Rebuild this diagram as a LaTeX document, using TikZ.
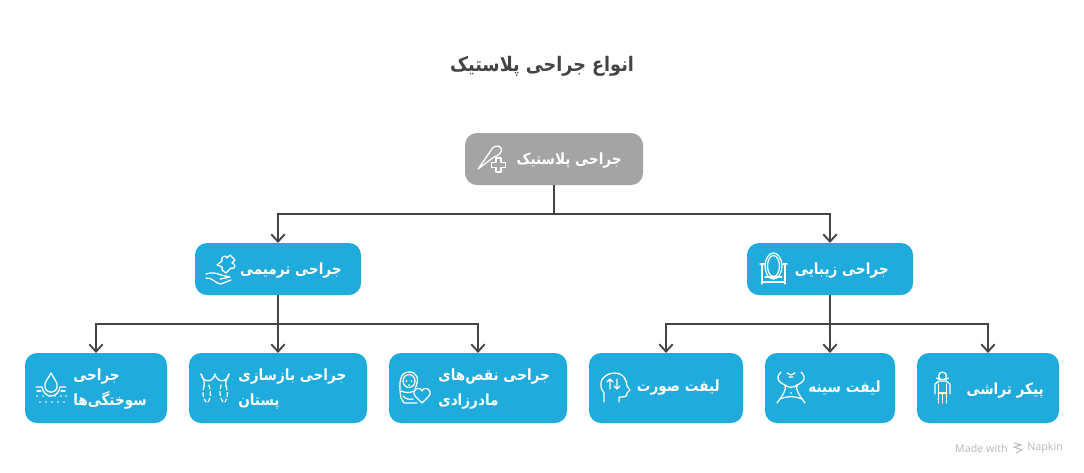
\documentclass[tikz,border=0pt]{standalone}
\usepackage{fontspec}
\TeXXeTstate=1
\newfontfamily\arabicfont[Script=Arabic,FakeStretch=0.88]{DejaVu Sans}
\setsansfont{Noto Sans}
\usetikzlibrary{arrows.meta}
\definecolor{boxblue}{HTML}{1FABDB}
\definecolor{boxgray}{HTML}{A4A4A4}
\definecolor{linegray}{HTML}{444444}
\definecolor{titlegray}{HTML}{444444}
\definecolor{markgray}{HTML}{BDBDBD}
\tikzset{
 x=0.75pt,y=-0.75pt,
 card/.style={rounded corners=9pt,anchor=north west,inner sep=0pt,outer sep=0pt},
 bluecard/.style={card,fill=boxblue},
 graycard/.style={card,fill=boxgray},
 lbl/.style={text=white,font=\arabicfont\bfseries\fontsize{11.6}{18.75}\selectfont,align=left,inner sep=0pt},
 link/.style={draw=linegray,line width=1.4pt,-{Straight Barb[length=5.5pt,width=10pt,line width=1.4pt]}},
 ico/.style={draw=white,line width=0.95pt,line cap=round,line join=round},
}
\newcommand{\rl}[1]{\beginR #1\endR}
\begin{document}
\begin{tikzpicture}
\useasboundingbox (0,0) rectangle (1084,472);
\fill[white] (0,0) rectangle (1084,472);
\node[text=titlegray,font=\arabicfont\bfseries\fontsize{15}{17}\selectfont,inner sep=0pt] (title) at (542,66) {\rl{انواع جراحی پلاستیک}};
\node[graycard,minimum width=133.5pt,minimum height=39pt] (root) at (465,133) {};
\node[bluecard,minimum width=124.5pt,minimum height=39pt] (recon) at (195,243) {};
\node[bluecard,minimum width=124.5pt,minimum height=39pt] (beauty) at (747,243) {};
\node[bluecard,minimum width=106.5pt,minimum height=52.5pt] (burn) at (25,353) {};
\node[bluecard,minimum width=133.5pt,minimum height=52.5pt] (breast) at (189,353) {};
\node[bluecard,minimum width=133.5pt,minimum height=52.5pt] (cong) at (389,353) {};
\node[bluecard,minimum width=115.5pt,minimum height=52.5pt] (face) at (589,353) {};
\node[bluecard,minimum width=97.5pt,minimum height=52.5pt] (chest) at (765,353) {};
\node[bluecard,minimum width=106.5pt,minimum height=52.5pt] (body) at (917,353) {};
\node[lbl,anchor=east] (t0) at (622,161) {\rl{جراحی پلاستیک}};
\node[lbl,anchor=east] (t1) at (342,271) {\rl{جراحی ترمیمی}};
\node[lbl,anchor=east] (t2) at (889,271) {\rl{جراحی زیبایی}};
\node[lbl,anchor=west] (t3) at (73,389) {\rl{جراحی}\\\rl{سوختگی‌ها}};
\node[lbl,anchor=west] (t4) at (238,389) {\rl{جراحی بازسازی}\\\rl{پستان}};
\node[lbl,anchor=west] (t5) at (438,389) {\rl{جراحی نقص‌های}\\\rl{مادرزادی}};
\node[lbl,anchor=east] (t6) at (720,388) {\rl{لیفت صورت}};
\node[lbl,anchor=east] (t7) at (881,388) {\rl{لیفت سینه}};
\node[lbl,anchor=east] (t8) at (1044,391) {\rl{پیکر تراشی}};
\draw[link] (root.south) -- ++(0,29) -| (recon.north);
\draw[link] (root.south) -- ++(0,29) -| (beauty.north);
\foreach \t in {burn,breast,cong} \draw[link] (recon.south) -- ++(0,29) -| (\t.north);
\foreach \t in {face,chest,body} \draw[link] (beauty.south) -- ++(0,29) -| (\t.north);
% root icon
\draw[ico] (478,169) -- (490,152) .. controls (492,146) and (499,144) .. (501,148) .. controls (503,152) and (498,156) .. (494,157) -- cycle;
\draw[ico,fill=boxgray] (491.5,162.5) -- (496,162.5) -- (496,158) -- (501,158) -- (501,162.5) -- (505.5,162.5) -- (505.5,167.5) -- (501,167.5) -- (501,172) -- (496,172) -- (496,167.5) -- (491.5,167.5) -- cycle;
% recon icon
\draw[ico] (217,265) -- (222,261) .. controls (220,257) and (226,254) .. (227,258) -- (230,255) -- (235,260) -- (232,263) .. controls (237,264) and (235,270) .. (231,268) -- (226,273) -- (222,270) .. controls (224,266) and (219,266) .. (217,265) -- cycle;
\draw[ico] (206,274) .. controls (212,272) and (216,273) .. (221,275) -- (230,277) -- (220,279) (206,278) .. controls (212,277) and (216,284) .. (221,284) -- (231,280);
% mirror icon
\draw[ico] (773.5,266) ellipse (8.5 and 13);
\draw[ico] (773.5,266) ellipse (6 and 10.5);
\draw[ico] (762,265) -- (762,284) (785,265) -- (785,284) (762,282) -- (785,282) (765,277) -- (782,277) (760,264) -- (764,264) (783,264) -- (787,264);
% burn icon
\draw[ico] (51,373) .. controls (48,379) and (44,382) .. (45,387) .. controls (46,394) and (56,394) .. (57,387) .. controls (58,382) and (54,379) .. (51,373);
\draw[ico] (36,387) -- (42,387) .. controls (44,399) and (58,399) .. (60,387) -- (66,387);
\draw[ico] (37,391) -- (41,391) (61,391) -- (65,391);
\foreach \p in {37,43,49,55,61,66} \fill[white] (\p,396) circle (0.9);
\foreach \p in {40,46,52,58,64} \fill[white] (\p,402) circle (0.9);
% breast icon
\draw[ico] (201,374) .. controls (203,383) and (213,383) .. (215,374) .. controls (217,383) and (227,383) .. (229,374);
\draw[ico] (201,374) .. controls (204,380) and (205,383) .. (204,386);
\draw[ico] (229,374) .. controls (226,380) and (225,383) .. (226,386);
\draw[ico,densely dashed] (204,386) .. controls (202,392) and (203,398) .. (206,402) (209,385) .. controls (211,392) and (211,398) .. (208,402);
\draw[ico,densely dashed] (226,386) .. controls (228,392) and (228,398) .. (225,402) (221,385) .. controls (219,392) and (220,398) .. (223,402);
% newborn icon
\draw[ico] (409,381) ellipse (6 and 6.5);
\draw[ico] (415,389) .. controls (420,378) and (417,372) .. (409,372) .. controls (401,372) and (398,380) .. (401,398) -- (404,403) -- (417,403);
\draw[ico] (401,391) .. controls (406,393) and (410,393) .. (414,391) (403,396) .. controls (406,399) and (409,400) .. (413,399);
\fill[white] (406.5,381) circle (1) (411.5,381) circle (1) (409,385) circle (1);
\draw[ico,fill=boxblue] (422,403) -- (415,396) .. controls (411,390) and (419,385) .. (422,391) .. controls (425,385) and (433,390) .. (429,396) -- cycle;
% face icon
\draw[ico] (604,402) -- (604,393) .. controls (597,384) and (602,374) .. (614,373) .. controls (624,373) and (627,381) .. (627,386) -- (630,390) -- (627,393) .. controls (627,397) and (625,397) .. (619,397) -- (619,402);
\draw[ico] (610,389) -- (610,379) (607,382) -- (610,379) -- (613,382) (617,379) -- (617,389) (614,386) -- (617,389) -- (620,386);
% chest icon
\draw[ico] (781,372) .. controls (775,378) and (778,382) .. (785,385) .. controls (787,390) and (782,396) .. (777,403);
\draw[ico] (801,372) .. controls (807,378) and (804,382) .. (797,385) .. controls (795,390) and (800,396) .. (805,403);
\draw[ico] (785,385) .. controls (788,388) and (794,388) .. (797,385);
\draw[ico] (780,399) .. controls (786,396) and (796,396) .. (802,399);
\draw[ico] (787,373) -- (791,375) -- (795,373) (789,377) -- (793,377);
\fill[white] (791,393) circle (1);
% body icon
\draw[ico] (942.5,376) circle (4);
\draw[ico] (936.5,378) .. controls (938,380) and (947,380) .. (948.5,378);
\draw[ico] (939,381) -- (946,381) -- (950,384) -- (950,394) (939,381) -- (935,384) -- (935,394);
\draw[ico] (938.5,384) -- (938.5,403) (946.5,384) -- (946.5,403) (942.5,393) -- (942.5,403) (938.5,393) -- (946.5,393);
% watermark
\node[text=markgray,font=\sffamily\fontsize{8}{9}\selectfont,anchor=east,inner sep=0pt] (mk1) at (1008,448) {Made with};
\draw[markgray,line width=0.8pt] (1014,443) -- (1021,445) -- (1014,447) -- (1022,450) -- (1016,453);
\node[text=markgray,font=\sffamily\fontsize{8}{9}\selectfont,anchor=west,inner sep=0pt] (mk2) at (1027,448) {Napkin};
\end{tikzpicture}
\end{document}
